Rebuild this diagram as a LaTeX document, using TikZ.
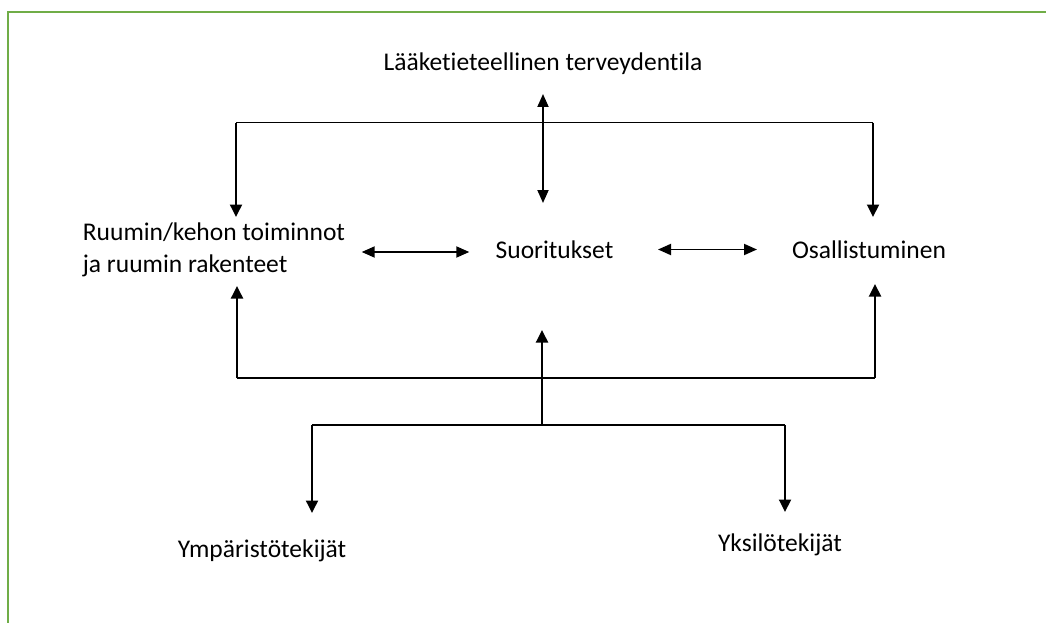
\documentclass[tikz,border=0pt]{standalone}
\usepackage{fontspec}
\setmainfont{Carlito}[RawFeature={-liga;-clig;-dlig}]
\usetikzlibrary{arrows.meta}
\definecolor{framegreen}{RGB}{112,173,71}
\begin{document}
\begin{tikzpicture}[x=1pt,y=-1pt,
  lbl/.style={font=\fontsize{25.5}{32.7}\selectfont, inner sep=0pt, anchor=base},
  conn/.style={line width=1.3pt},
  arr/.style={line width=1.9pt, -{Triangle[length=12.5pt,width=12pt]}},
  darr/.style={line width=1.9pt, {Triangle[length=13pt,width=11pt]}-{Triangle[length=13pt,width=11pt]}},
]
\useasboundingbox (0,0) rectangle (1046,623);
\draw[line width=2pt, framegreen] (8.3,640) -- (8.3,11.8) -- (1060,11.8);

% labels
\node[lbl] (med) at (543,71) {Lääketieteellinen terveydentila};
\node[lbl, anchor=base west, align=left] (body) at (82.7,272.7) {Ruumin/kehon toiminnot\\ja ruumin rakenteet};
\node[lbl] (act) at (554.5,258) {Suoritukset};
\node[lbl] (part) at (869,258) {Osallistuminen};
\node[lbl] (env) at (262,557) {Ympäristötekijät};
\node[lbl] (pers) at (780,551) {Yksilötekijät};

% junction coordinates
\coordinate (tl) at (236,122.7);
\coordinate (tr) at (873,122.7);
\coordinate (bl) at (237,378);
\coordinate (br) at (875,378);
\coordinate (lowc) at (542,425);
\coordinate (lowl) at (312,425);
\coordinate (lowr) at (785,425);

% top bracket from medical condition
\draw[conn] (tl) -- (tr);
\draw[arr] (tl) -- (236,217);
\draw[arr] (tr) -- (873,217);
\draw[darr] (543,94) -- (543,203);

% horizontal double arrows
\draw[darr] (361.7,252) -- (469.3,252);
\draw[darr] (658,249.5) -- (757,249.5);

% bottom bracket
\draw[conn] (bl) -- (br);
\draw[arr] (bl) -- (237,286);
\draw[arr] (br) -- (875,284);
\draw[arr] (lowc) -- (542,330);

% lower bracket to contextual factors
\draw[conn] (lowl) -- (lowr);
\draw[arr] (lowl) -- (312,513);
\draw[arr] (lowr) -- (785,512);
\end{tikzpicture}
\end{document}
